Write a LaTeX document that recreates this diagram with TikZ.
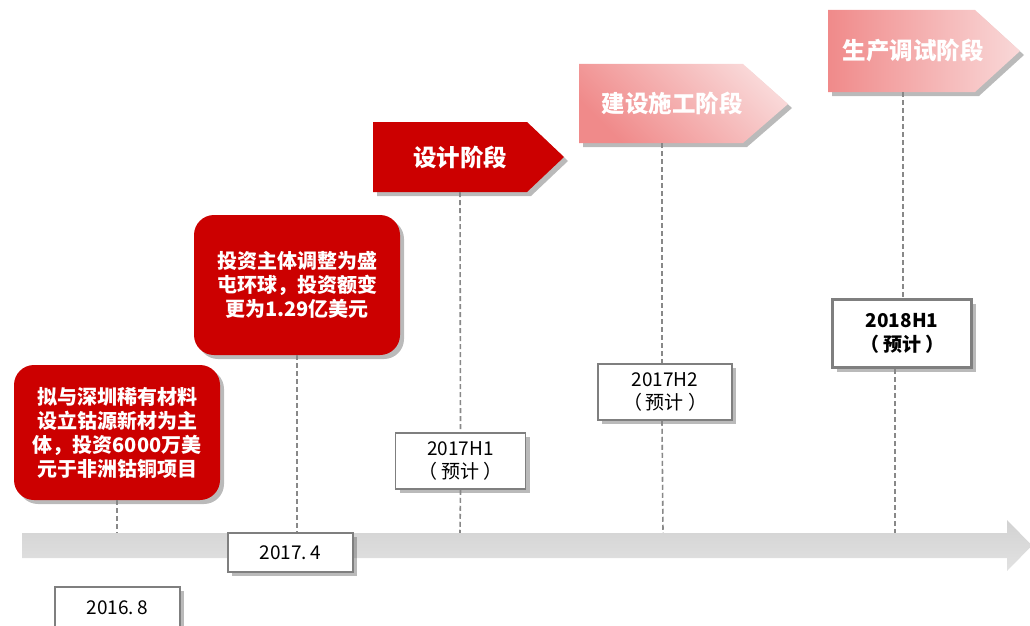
\documentclass[tikz,border=0pt]{standalone}
\usepackage{fontspec}
\setmainfont{Noto Sans CJK SC}
\usetikzlibrary{shadows,calc}
\definecolor{darkred}{HTML}{CC0000}
\definecolor{pinkdark}{HTML}{F08A8A}
\definecolor{pinklight}{HTML}{F9D8D8}
\definecolor{linegrey}{HTML}{888888}
\definecolor{boxgrey}{HTML}{7F7F7F}
\definecolor{tlA}{HTML}{D2D2D2}
\definecolor{tlB}{HTML}{E2E2E2}
\newcommand{\yuji}{（\hspace{4pt}预计\hspace{4pt}）}
\tikzset{
  shad/.style={drop shadow={shadow xshift=4pt,shadow yshift=-4pt,opacity=.45,fill=black!60}},
  redbox/.style={shad,fill=darkred,rounded corners=20pt,text=white,align=center,
    font=\fontsize{20}{24}\selectfont\bfseries,inner sep=0pt},
  stagetext/.style={text=white,inner sep=0pt,font=\fontsize{23.5}{26}\selectfont\bfseries},
  datebox/.style={shad,fill=white,draw=boxgrey,line width=1.5pt,align=center,inner sep=0pt,
    font=\fontsize{19}{23}\selectfont},
  conn/.style={draw=linegrey,line width=1.6pt,dash pattern=on 5pt off 3pt}
}
\begin{document}
\begin{tikzpicture}[x=1pt,y=-1pt]
\useasboundingbox (0,0) rectangle (1030,626);
\clip (0,0) rectangle (1030,626);

% coordinates on the timeline
\coordinate (t1) at (117,533);
\coordinate (t3) at (460,533);
\coordinate (t4) at (663,533);
\coordinate (t5) at (895,533);

% stage shapes
\path[shad,fill=darkred] (373,122) -- (527,122) -- (564,157) -- (527,192) -- (373,192) -- cycle;
\path[shad,top color=pinklight,bottom color=pinkdark,shading angle=-45]
  (579,64) -- (743,64) -- (788,104) -- (743,143) -- (579,143) -- cycle;
\path[shad,left color=pinkdark,right color=pinklight]
  (828,10) -- (975,10) -- (1020,51) -- (975,92) -- (828,92) -- cycle;

\node[stagetext,minimum width=174,minimum height=70] (s1) at (460,157) {设计阶段};
\node[stagetext,minimum width=186,minimum height=79] (s2) at (672,103.5) {建设施工阶段};
\node[stagetext,minimum width=170,minimum height=82] (s3) at (913,51) {生产调试阶段};

% date boxes
\node[datebox,minimum width=130,minimum height=56] (h1) at (460.5,461) {2017H1\\\yuji};
\node[datebox,minimum width=134,minimum height=56] (h2) at (665,392) {2017H2\\\yuji};
\node[datebox,line width=3pt,minimum width=139,minimum height=68,font=\fontsize{19}{24}\selectfont\bfseries] (h3) at (902,333.5) {2018H1\\\yuji};

% red boxes
\node[redbox,minimum width=206,minimum height=135] (b1) at (117,432.5)
  {拟与深圳稀有材料\\设立钴源新材为主\\体，投资6000万美\\元于非洲钴铜项目};
\node[redbox,minimum width=206,minimum height=140] (b2) at (297,285)
  {投资主体调整为盛\\屯环球，投资额变\\更为1.29亿美元};

% connectors
\draw[conn] (b1.south) -- (t1);
\draw[conn] (s1.south) -- (h1.north);
\draw[conn] (h1.south) -- (t3);
\draw[conn] (s2.south -| 662,0) -- (h2.north -| 662,0);
\draw[conn] (h2.south -| 662,0) -- (t4);
\draw[conn] (s3.south -| 903,0) -- (h3.north -| 903,0);
\draw[conn] (h3.south -| t5) -- (t5);

% timeline arrow
\shade[top color=tlA,bottom color=tlB]
  (22,533) -- (1007,533) -- (1007,520) -- (1032,545.5) -- (1007,571) -- (1007,558) -- (22,558) -- cycle;

\node[datebox,minimum width=125,minimum height=39] (d2) at (290.5,552.5) {2017.\hspace{4pt}4};
\draw[conn] (b2.south) -- (b2.south |- d2.north);
\node[datebox,minimum width=125,minimum height=60] (d1) at (117.5,617) {};
\node[font=\fontsize{19}{23}\selectfont,inner sep=0pt] (d1t) at (117.5,608) {2016.\hspace{4pt}8};
\end{tikzpicture}
\end{document}
